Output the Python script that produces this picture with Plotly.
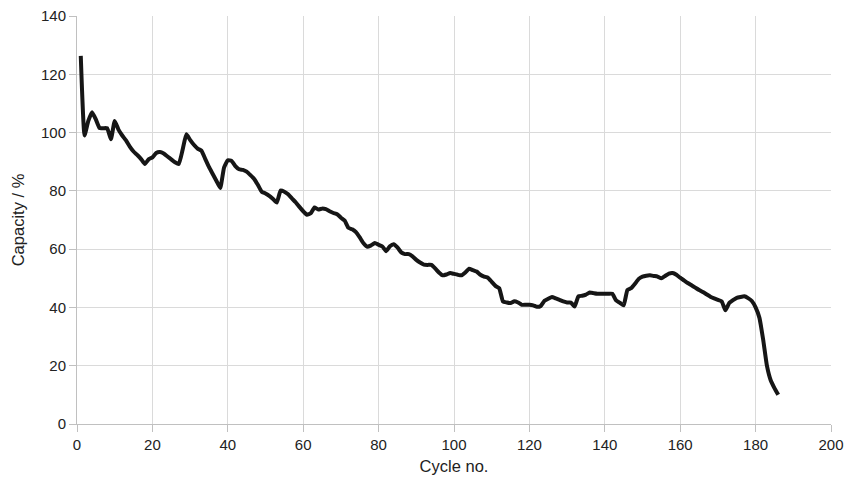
import plotly.graph_objects as go

cycles = list(range(1, 187))
capacity = [
    126.3, 99, 104, 107, 104.5, 101.5, 101.5, 101.5, 97.7, 104,
    101, 99, 97.3, 95.2, 93.5, 92.3, 90.9, 89.2, 90.8, 91.5,
    93, 93.3, 92.8, 91.8, 90.8, 89.8, 89.2, 94, 99.4, 97.5,
    95.8, 94.5, 93.8, 91, 88.2, 85.8, 83.4, 81, 88, 90.5,
    90.3, 88.5, 87.4, 87.2, 86.6, 85.4, 84.1, 82, 79.7, 79.1,
    78.3, 77.2, 76, 80.1, 79.7, 78.8, 77.4, 76.1, 74.5, 73,
    71.8, 72.3, 74.3, 73.6, 73.9, 73.7, 73, 72.4, 72, 70.8,
    69.8, 67.3, 66.8, 65.8, 64, 62, 60.8, 61.3, 62.1, 61.5,
    60.9, 59.3, 61, 61.7, 60.6, 58.9, 58.3, 58.3, 57.5, 56.3,
    55.4, 54.7, 54.6, 54.6, 53.4, 52, 51, 51.3, 51.8, 51.5,
    51.2, 51, 52, 53.3, 52.8, 52.3, 51.2, 50.6, 50.2, 48.8,
    47.4, 46.6, 42, 41.7, 41.5, 42.1, 41.7, 40.9, 40.9, 40.9,
    40.7, 40.2, 40.5, 42.3, 43, 43.6, 43.1, 42.6, 42.1, 41.7,
    41.7, 40.3, 43.8, 44, 44.4, 45.1, 44.9, 44.7, 44.7, 44.7,
    44.7, 44.7, 42.4, 41.6, 40.7, 46, 46.6, 48.1, 49.8, 50.6,
    50.9, 51, 50.8, 50.6, 50, 50.8, 51.6, 51.8, 51.2, 50.2,
    49.3, 48.4, 47.6, 46.8, 46, 45.3, 44.5, 43.7, 43.1, 42.6,
    42.1, 39, 41.5, 42.5, 43.3, 43.6, 43.8, 43.2, 42.2, 40,
    36.5, 29, 20, 15, 12.3, 10,
]

x_ticks = [0, 20, 40, 60, 80, 100, 120, 140, 160, 180, 200]
y_ticks = [0, 20, 40, 60, 80, 100, 120, 140]

FONT = "Liberation Sans, Arial, sans-serif"

fig = go.Figure()
fig.add_trace(go.Scatter(
    x=cycles, y=capacity, mode="lines",
    line=dict(color="#161616", width=4, shape="spline", smoothing=0.4),
    showlegend=False,
))

axis_common = dict(
    showgrid=True, gridcolor="#dadada", gridwidth=1,
    showline=True, linecolor="#c0c0c0", linewidth=1,
    ticks="outside", ticklen=7, tickcolor="#c0c0c0",
    tickfont=dict(family=FONT, size=15, color="#222"),
    zeroline=False, automargin=False,
)

fig.update_xaxes(range=[0, 200], tickvals=x_ticks,
                 title=dict(text="Cycle no.", font=dict(family=FONT, size=16.5, color="#222"), standoff=8),
                 **axis_common)
fig.update_yaxes(range=[0, 140], tickvals=y_ticks,
                 title=dict(text="Capacity / %", font=dict(family=FONT, size=16.5, color="#222"), standoff=12),
                 **axis_common)

fig.update_layout(
    width=857, height=482,
    margin=dict(l=77, r=26, t=16, b=58),
    paper_bgcolor="white", plot_bgcolor="white",
)

fig.write_html("out.html")
